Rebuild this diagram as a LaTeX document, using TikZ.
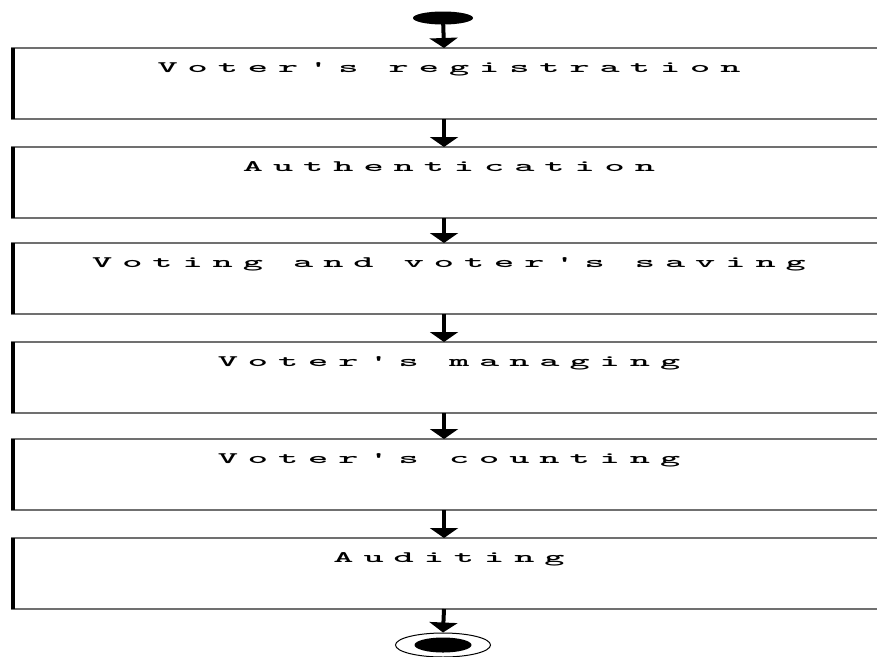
\documentclass[tikz,border=0pt]{standalone}
\usepackage{graphicx}
\usepackage{fontspec}
\newfontfamily\boxfont{lmmonolt10-bold}[Extension=.otf,LetterSpace=26]
\usetikzlibrary{arrows.meta,shapes.geometric}
\definecolor{edgegray}{RGB}{112,112,112}
\newcommand{\widetext}[1]{\scalebox{2.4}[1]{#1}}
\begin{document}
\begin{tikzpicture}[x=1pt,y=-1pt,
  stagebox/.style={rectangle,draw=none,minimum width=866pt,minimum height=71pt,anchor=north west,inner sep=0pt,outer sep=0pt},
  stagetext/.style={anchor=base,inner sep=0pt,font=\boxfont\fontsize{16}{16}\selectfont},
  hedge/.style={draw=edgegray,line width=2pt},
  vedge/.style={draw=black,line width=4pt},
  flow/.style={draw=black,line width=4pt,-{Triangle[width=28pt,length=10pt]}},
  startdot/.style={ellipse,fill=black,minimum width=60pt,minimum height=13pt,inner sep=0pt},
  endring/.style={ellipse,draw=black,line width=1pt,minimum width=95pt,minimum height=24pt,inner sep=0pt},
  enddot/.style={ellipse,fill=black,minimum width=57pt,minimum height=15pt,inner sep=0pt}]
\useasboundingbox (0,0) rectangle (877,656);
\fill[white] (0,0) rectangle (877,656);

\node[startdot] (start) at (443,18) {};

\node[stagebox] (b1) at (11,48) {};
\node[stagebox] (b2) at (11,147) {};
\node[stagebox] (b3) at (11,243) {};
\node[stagebox] (b4) at (11,342) {};
\node[stagebox] (b5) at (11,439) {};
\node[stagebox] (b6) at (11,538) {};

\node[stagetext] (t1) at ([xshift=5pt,yshift=-24pt]b1.north) {\widetext{Voter's registration}};
\node[stagetext] (t2) at ([xshift=5pt,yshift=-24pt]b2.north) {\widetext{Authentication}};
\node[stagetext] (t3) at ([xshift=5pt,yshift=-24pt]b3.north) {\widetext{Voting and voter's saving}};
\node[stagetext] (t4) at ([xshift=5pt,yshift=-24pt]b4.north) {\widetext{Voter's managing}};
\node[stagetext] (t5) at ([xshift=5pt,yshift=-24pt]b5.north) {\widetext{Voter's counting}};
\node[stagetext] (t6) at ([xshift=5pt,yshift=-24pt]b6.north) {\widetext{Auditing}};

\foreach \b in {b1,b2,b3,b4,b5,b6}{
  \draw[hedge] (\b.north west) -- (\b.north east);
  \draw[hedge] (\b.south west) -- (\b.south east);
  \draw[vedge] ([xshift=2pt]\b.north west) -- ([xshift=2pt]\b.south west);
}

\node[endring] (endr) at (443,645) {};
\node[enddot] (endd) at (443,645) {};

\draw[flow] (start.center) -- (b1.north);
\draw[flow] (b1.south) -- (b2.north);
\draw[flow] (b2.south) -- (b3.north);
\draw[flow] (b3.south) -- (b4.north);
\draw[flow] (b4.south) -- (b5.north);
\draw[flow] (b5.south) -- (b6.north);
\draw[flow] (b6.south) -- (endr.north);
\end{tikzpicture}
\end{document}
